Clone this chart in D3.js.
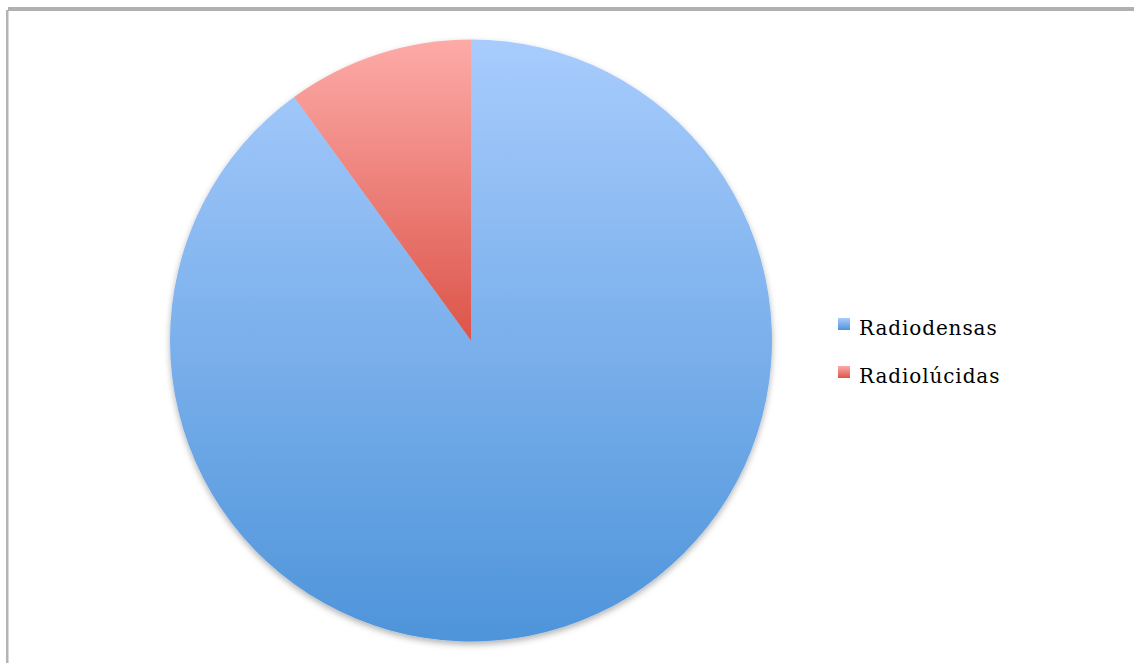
<!DOCTYPE html>
<html>
<head>
<meta charset="utf-8">
<script src="https://cdn.jsdelivr.net/npm/d3@7"></script>
<style>
  html, body { margin: 0; padding: 0; background: #fff; }
  svg { display: block; }
</style>
</head>
<body>
<svg id="chart" width="1134" height="663"></svg>
<script>
// data
const categories = ["Radiodensas", "Radiolúcidas"];
const values = [90, 10];
const colorsTop = ["#a8ccfd", "#fdaba8"];
const colorsBottom = ["#4e94da", "#dc5449"];

const svg = d3.select("#chart");
const width = 1134, height = 663;
const cx = 471, cy = 340.5, radius = 301;

// frame borders (top and left only, as in the screenshot)
svg.append("rect").attr("x", 8).attr("y", 7).attr("width", width - 8).attr("height", 4).attr("fill", "#b0b0b0");
svg.append("rect").attr("x", 6).attr("y", 10).attr("width", 2.5).attr("height", height - 10).attr("fill", "#b4b4b4");

const defs = svg.append("defs");
categories.forEach((c, i) => {
    const g = defs.append("linearGradient")
        .attr("id", "grad" + i)
        .attr("x1", 0).attr("y1", 0).attr("x2", 0).attr("y2", 1);
    g.append("stop").attr("offset", "0%").attr("stop-color", colorsTop[i]);
    g.append("stop").attr("offset", "100%").attr("stop-color", colorsBottom[i]);
});
const shadow = defs.append("filter").attr("id", "shadow")
    .attr("x", "-10%").attr("y", "-10%").attr("width", "120%").attr("height", "120%");
shadow.append("feDropShadow").attr("dx", 0).attr("dy", 3).attr("stdDeviation", 3)
    .attr("flood-color", "#000").attr("flood-opacity", 0.3);

const pie = d3.pie().sort(null).value(d => d.value);
const arc = d3.arc().innerRadius(0).outerRadius(radius);
const data = categories.map((c, i) => ({ name: c, value: values[i] }));

const g = svg.append("g")
    .attr("transform", `translate(${cx},${cy})`)
    .attr("filter", "url(#shadow)");

g.selectAll("path")
    .data(pie(data))
    .join("path")
    .attr("d", arc)
    .attr("fill", (d, i) => `url(#grad${i})`);

// legend
const legend = svg.append("g").attr("transform", "translate(838,318)");
const item = legend.selectAll("g")
    .data(categories)
    .join("g")
    .attr("transform", (d, i) => `translate(0,${i * 48})`);
item.append("rect")
    .attr("width", 12).attr("height", 12)
    .attr("fill", (d, i) => `url(#grad${i})`);
item.append("text")
    .attr("x", 21).attr("y", 17)
    .attr("font-family", "DejaVu Serif, serif")
    .attr("font-size", 20)
    .attr("letter-spacing", 0.9)
    .attr("fill", "#000")
    .text(d => d);
</script>
</body>
</html>
